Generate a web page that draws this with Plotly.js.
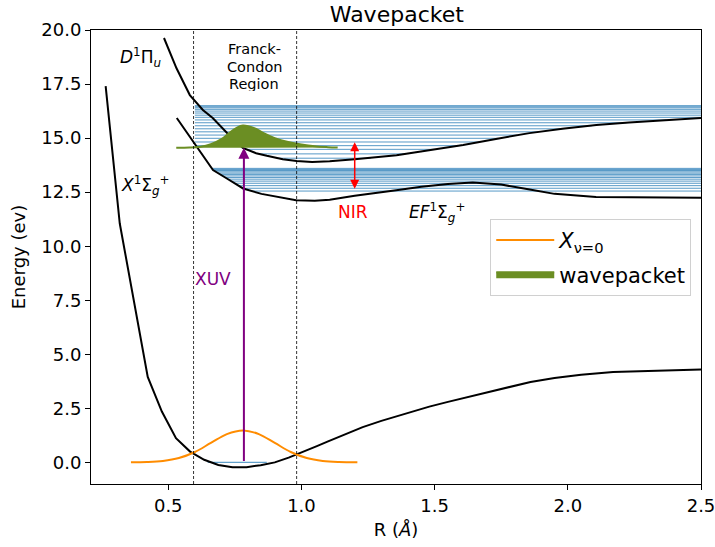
<!DOCTYPE html>
<html><head><meta charset="utf-8">
<script src="https://cdn.plot.ly/plotly-3.0.1.min.js"></script>
<style>html,body{margin:0;padding:0;background:#fff}#chart{width:715px;height:547px}</style>
</head><body><div id="chart"></div>
<script>
// X ground state potential
const xPotR = [0.265,0.318,0.423,0.476,0.529,0.582,0.635,0.688,0.741,0.794,0.847,0.90,0.952,1.0,1.058,1.10,1.164,1.23,1.30,1.40,1.48,1.55,1.65,1.75,1.86,1.95,2.05,2.17,2.30,2.40,2.50];
const xPotE = [17.4,11.05,3.95,2.35,1.12,0.50,0.12,-0.12,-0.23,-0.22,-0.13,0.0,0.22,0.45,0.75,0.97,1.30,1.63,1.92,2.30,2.58,2.80,3.10,3.40,3.72,3.90,4.05,4.18,4.24,4.27,4.30];
// D state potential
const dPotR = [0.484,0.531,0.581,0.63,0.667,0.72,0.78,0.83,0.87,0.93,0.982,1.04,1.106,1.2,1.357,1.48,1.607,1.73,1.856,1.98,2.107,2.23,2.355,2.50];
const dPotE = [19.63,18.23,16.99,16.30,15.93,15.25,14.55,14.30,14.18,14.02,13.94,13.90,13.93,14.02,14.21,14.44,14.68,14.96,15.23,15.43,15.60,15.72,15.83,15.93];
// EF state potential
const efPotR = [0.532,0.60,0.668,0.72,0.781,0.85,0.92,0.98,1.05,1.106,1.2,1.3,1.356,1.45,1.55,1.643,1.75,1.857,1.95,2.106,2.3,2.5];
const efPotE = [15.93,14.73,13.52,13.13,12.67,12.42,12.25,12.13,12.10,12.15,12.33,12.48,12.59,12.75,12.88,12.95,12.85,12.62,12.42,12.28,12.25,12.24];
// vibrational levels
const upperLevelE = [16.50,16.45,16.40,16.33,16.25,16.16,16.06,15.96,15.84,15.71,15.57,15.43,15.29,15.14,14.99,14.82,14.65,14.48,14.27,14.07];
const upperLevelStart = [0.60,0.60,0.60,0.60,0.60,0.60,0.60,0.60,0.60,0.60,0.60,0.60,0.60,0.60,0.60,0.60,0.60,0.79,0.84,0.91];
const upperLevelEnd = [2.5,2.5,2.5,2.5,2.5,2.5,2.5,2.5,2.37,2.22,2.09,1.98,1.89,1.81,1.74,1.67,1.59,1.50,1.39,1.26];
const lowerLevelE = [13.60,13.55,13.50,13.44,13.38,13.32,13.25,13.18,13.10,13.01,12.91,12.80,12.68,12.55];
const lowerLevelStart = [0.664,0.666,0.67,0.679,0.687,0.695,0.704,0.713,0.724,0.736,0.749,0.764,0.78,0.81];
const lowerLevelEnd = [2.5,2.5,2.5,2.5,2.5,2.5,2.5,2.5,2.5,2.5,2.5,2.5,2.5,2.5];
const groundLevelR = [0.648,0.87];
const groundLevelE = [0,0];
// ground state wavefunction
const psi0R = [0.36,0.42,0.48,0.54,0.60,0.66,0.72,0.78,0.84,0.90,0.96,1.02,1.08,1.14,1.21];
const psi0E = [0.003,0.016,0.065,0.20,0.48,0.90,1.31,1.48,1.31,0.90,0.48,0.20,0.065,0.016,0.003];
// wavepacket
const wpR = [0.53,0.58,0.62,0.66,0.70,0.73,0.76,0.78,0.80,0.83,0.86,0.90,0.95,1.00,1.05,1.10,1.136];
const wpE = [14.55,14.56,14.60,14.72,14.95,15.25,15.50,15.58,15.55,15.42,15.22,15.00,14.82,14.70,14.62,14.58,14.56];
// Franck-Condon region bounds, arrows
const fcBounds = [0.595,0.982];
const xuvR = 0.784, xuvE = [0,14.55];
const nirR = 1.2, nirE = [12.59,14.81];

const F = 'DejaVu Sans, sans-serif';
function levelTrace(E, s, e){
  const x=[], y=[];
  for(let i=0;i<E.length;i++){ x.push(s[i], e[i], null); y.push(E[i], E[i], null); }
  return {x, y, mode:'lines', line:{color:'rgba(31,119,180,0.75)', width:1}, showlegend:false, hoverinfo:'skip'};
}
const traces = [
  levelTrace(upperLevelE, upperLevelStart, upperLevelEnd),
  levelTrace(lowerLevelE, lowerLevelStart, lowerLevelEnd),
  {x:groundLevelR, y:groundLevelE, mode:'lines', line:{color:'rgba(31,119,180,0.7)', width:1.3}, showlegend:false},
  {x:xPotR, y:xPotE, mode:'lines', line:{color:'black', width:2}, showlegend:false},
  {x:dPotR, y:dPotE, mode:'lines', line:{color:'black', width:2}, showlegend:false},
  {x:efPotR, y:efPotE, mode:'lines', line:{color:'black', width:2}, showlegend:false},
  {x:psi0R, y:psi0E, mode:'lines', line:{color:'#ff8c00', width:2, shape:'spline'}, name:'<i>X</i><sub>ν=0</sub>', legendgroup:'a'},
  {x:wpR, y:wpE, mode:'lines', fill:'toself', fillcolor:'#6b8e23', line:{color:'#6b8e23', width:2, shape:'spline'}, name:'wavepacket', legendgroup:'b'}
];
const shapes = fcBounds.map(r => ({type:'line', xref:'x', yref:'paper', x0:r, x1:r, y0:0, y1:1, line:{color:'black', width:0.8, dash:'3px,2px'}}));
const fcFont = {family:F, size:14.5, color:'black'};
const ann = [
  {x:xuvR, y:xuvE[1], ax:xuvR, ay:xuvE[0], axref:'x', ayref:'y', xref:'x', yref:'y', text:'', showarrow:true, arrowhead:2, arrowsize:1.1, arrowwidth:2, arrowcolor:'#800080'},
  {x:nirR, y:nirE[1], ax:nirR, ay:nirE[0], axref:'x', ayref:'y', xref:'x', yref:'y', text:'', showarrow:true, arrowhead:2, startarrowhead:2, arrowside:'end+start', arrowsize:1.2, startarrowsize:1.2, arrowwidth:1.5, arrowcolor:'red'},
  {x:0.397, y:18.75, text:'<i>D</i><sup>1</sup>Π<sub><i>u</i></sub>', showarrow:false, font:{family:F, size:17, color:'black'}},
  {x:0.413, y:12.82, text:'<i>X</i><sup>1</sup>Σ<sub><i>g</i></sub><sup>+</sup>', showarrow:false, font:{family:F, size:17, color:'black'}},
  {x:1.508, y:11.57, text:'<i>EF</i><sup>1</sup>Σ<sub><i>g</i></sub><sup>+</sup>', showarrow:false, font:{family:F, size:17, color:'black'}},
  {x:0.822, y:19.15, text:'Franck-', showarrow:false, font:fcFont, height:15, borderpad:0},
  {x:0.822, y:18.33, text:'Condon', showarrow:false, font:fcFont, height:15, borderpad:0},
  {x:0.822, y:17.51, text:'Region', showarrow:false, font:fcFont, height:15, borderpad:0},
  {x:0.667, y:8.47, text:'XUV', showarrow:false, font:{family:F, size:17, color:'#800080'}},
  {x:1.193, y:11.6, text:'NIR', showarrow:false, font:{family:F, size:17, color:'red'}}
];
const layout = {
  width:715, height:547, margin:{l:91, r:14, t:30, b:63},
  paper_bgcolor:'white', plot_bgcolor:'white',
  font:{family:F, size:18, color:'black'},
  title:{text:'Wavepacket', font:{family:F, size:22, color:'black'}, x:0.555, xanchor:'center', yref:'container', y:0.974, yanchor:'middle'},
  xaxis:{range:[0.21,2.5], tickvals:[0.5,1.0,1.5,2.0,2.5], ticktext:['0.5','1.0','1.5','2.0','2.5'], ticks:'outside', ticklen:5, tickcolor:'black', showline:true, mirror:true, linecolor:'black', linewidth:1, showgrid:false, zeroline:false, tickfont:{family:F, size:18}, ticklabeloverflow:'allow',
    title:{text:'R (<i>Å</i>)', font:{family:F, size:18}, standoff:8}},
  yaxis:{range:[-1,20], tickvals:[0,2.5,5,7.5,10,12.5,15,17.5,20], ticktext:['0.0','2.5','5.0','7.5','10.0','12.5','15.0','17.5','20.0'], ticks:'outside', ticklen:5, tickcolor:'black', showline:true, mirror:true, linecolor:'black', linewidth:1, showgrid:false, zeroline:false, tickfont:{family:F, size:18}, ticklabeloverflow:'allow',
    title:{text:'Energy (ev)', font:{family:F, size:18}, standoff:11}},
  legend:{x:0.984, y:0.584, xanchor:'right', yanchor:'top', bgcolor:'rgba(255,255,255,0.8)', bordercolor:'#d0d0d0', borderwidth:1, font:{family:F, size:21}, itemwidth:58, tracegroupgap:4, traceorder:'grouped'},
  shapes, annotations:ann, showlegend:true
};
Plotly.newPlot('chart', traces, layout, {displayModeBar:false, staticPlot:true});
</script></body></html>
